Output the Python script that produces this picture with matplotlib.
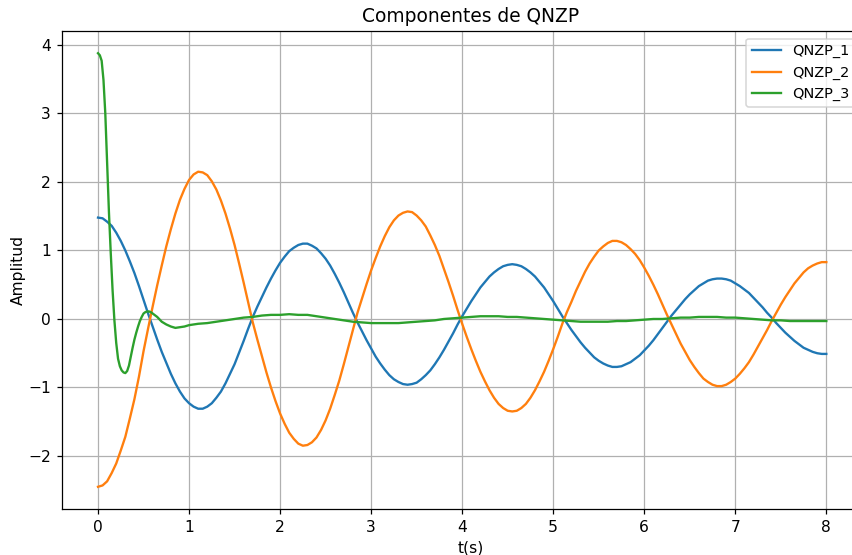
import numpy as np
import matplotlib
matplotlib.use("Agg")
import matplotlib.pyplot as plt

# Valores (muestreo cada 0.05 s)
t = [round(0.05 * i, 2) for i in range(161)]

qnzp_1 = [1.48, 1.47, 1.42, 1.36, 1.26, 1.14, 1.00, 0.84, 0.67, 0.48,
          0.28, 0.08, -0.11, -0.30, -0.48, -0.64, -0.80, -0.94, -1.06, -1.16,
          -1.23, -1.28, -1.31, -1.31, -1.28, -1.23, -1.15, -1.06, -0.94, -0.80,
          -0.66, -0.49, -0.32, -0.14, 0.03, 0.18, 0.32, 0.46, 0.59, 0.71,
          0.82, 0.91, 0.99, 1.04, 1.08, 1.10, 1.10, 1.07, 1.03, 0.96,
          0.88, 0.78, 0.66, 0.53, 0.39, 0.24, 0.09, -0.05, -0.18, -0.31,
          -0.43, -0.55, -0.65, -0.74, -0.82, -0.88, -0.92, -0.95, -0.96, -0.95,
          -0.93, -0.88, -0.82, -0.75, -0.66, -0.56, -0.45, -0.33, -0.21, -0.08,
          0.04, 0.15, 0.26, 0.36, 0.46, 0.54, 0.62, 0.68, 0.73, 0.77,
          0.79, 0.80, 0.79, 0.77, 0.73, 0.68, 0.62, 0.54, 0.46, 0.36,
          0.26, 0.15, 0.04, -0.06, -0.16, -0.25, -0.34, -0.42, -0.49, -0.56,
          -0.61, -0.65, -0.68, -0.70, -0.70, -0.69, -0.66, -0.63, -0.58, -0.53,
          -0.46, -0.39, -0.31, -0.22, -0.13, -0.04, 0.05, 0.13, 0.21, 0.29,
          0.36, 0.42, 0.48, 0.52, 0.56, 0.58, 0.59, 0.59, 0.58, 0.56,
          0.52, 0.48, 0.43, 0.38, 0.31, 0.24, 0.17, 0.09, 0.02, -0.06,
          -0.13, -0.20, -0.26, -0.32, -0.37, -0.42, -0.45, -0.48, -0.50, -0.51,
          -0.51]

qnzp_2 = [-2.45, -2.43, -2.37, -2.25, -2.11, -1.92, -1.72, -1.45, -1.17, -0.84,
          -0.47, -0.14, 0.18, 0.49, 0.78, 1.06, 1.31, 1.54, 1.74, 1.90,
          2.03, 2.11, 2.15, 2.14, 2.10, 2.01, 1.89, 1.73, 1.54, 1.32,
          1.08, 0.81, 0.53, 0.24, -0.05, -0.30, -0.54, -0.78, -1.00, -1.20,
          -1.38, -1.53, -1.66, -1.75, -1.82, -1.85, -1.84, -1.80, -1.73, -1.62,
          -1.48, -1.31, -1.11, -0.90, -0.66, -0.41, -0.16, 0.09, 0.30, 0.51,
          0.71, 0.89, 1.06, 1.21, 1.34, 1.44, 1.51, 1.55, 1.57, 1.56,
          1.51, 1.44, 1.35, 1.22, 1.08, 0.92, 0.73, 0.54, 0.34, 0.13,
          -0.07, -0.26, -0.44, -0.61, -0.77, -0.91, -1.04, -1.15, -1.24, -1.30,
          -1.34, -1.35, -1.34, -1.30, -1.24, -1.15, -1.04, -0.91, -0.77, -0.61,
          -0.44, -0.26, -0.07, 0.10, 0.25, 0.41, 0.55, 0.69, 0.81, 0.91,
          1.00, 1.06, 1.11, 1.14, 1.14, 1.12, 1.08, 1.02, 0.95, 0.86,
          0.75, 0.63, 0.50, 0.36, 0.21, 0.06, -0.08, -0.22, -0.36, -0.48,
          -0.60, -0.70, -0.79, -0.87, -0.92, -0.96, -0.98, -0.98, -0.96, -0.92,
          -0.87, -0.80, -0.72, -0.63, -0.52, -0.40, -0.28, -0.16, -0.03, 0.09,
          0.21, 0.32, 0.42, 0.52, 0.60, 0.68, 0.74, 0.78, 0.81, 0.83,
          0.83]

# QNZP_3 cambia muy rapido al inicio: muestreo mas fino hasta 1 s
t_3 = [0.00, 0.02, 0.04, 0.06, 0.08, 0.10, 0.12, 0.14, 0.16, 0.18,
       0.20, 0.22, 0.24, 0.26, 0.28, 0.30, 0.32, 0.34, 0.36, 0.38,
       0.40, 0.42, 0.44, 0.46, 0.48, 0.50, 0.52, 0.54, 0.56, 0.58,
       0.60, 0.65, 0.70, 0.75, 0.80, 0.85, 0.90, 0.95] + \
      [round(0.1 * i, 1) for i in range(10, 81)]

qnzp_3 = [3.88, 3.85, 3.77, 3.49, 3.00, 2.28, 1.56, 0.96, 0.42, -0.02,
          -0.35, -0.58, -0.69, -0.75, -0.78, -0.79, -0.76, -0.68, -0.55, -0.42,
          -0.30, -0.20, -0.11, -0.03, 0.03, 0.08, 0.10, 0.11, 0.11, 0.10,
          0.08, 0.03, -0.04, -0.08, -0.11, -0.13, -0.12, -0.11,
          -0.09, -0.07, -0.06, -0.04, -0.02, 0.00, 0.02,
          0.03, 0.05, 0.06, 0.06, 0.07, 0.06, 0.06, 0.04, 0.02, 0.00,
          -0.02, -0.04, -0.05, -0.06, -0.06, -0.06, -0.06, -0.05, -0.04, -0.03,
          -0.02, 0.00, 0.01, 0.02, 0.03, 0.04, 0.04, 0.04, 0.03, 0.03,
          0.02, 0.01, 0.00, -0.01, -0.02, -0.03, -0.04, -0.04, -0.04, -0.04,
          -0.03, -0.03, -0.02, -0.01, 0.00, 0.00, 0.01, 0.02, 0.02, 0.03,
          0.03, 0.03, 0.02, 0.02, 0.01, 0.00, -0.01, -0.02, -0.02, -0.03,
          -0.03, -0.03, -0.03, -0.03]

series = {"QNZP_1": (t, qnzp_1), "QNZP_2": (t, qnzp_2), "QNZP_3": (t_3, qnzp_3)}


def main():
    dpi = 112
    fig = plt.figure(figsize=(852 / dpi, 555 / dpi), dpi=dpi)
    # la imagen original esta recortada a la derecha, el eje sale del lienzo
    ax = fig.add_axes([0.0723, 0.0834, 0.9606, 0.8602])

    for name, (x, y) in series.items():
        ax.plot(x, y, label=name, linewidth=1.5)

    ax.set_xlim(-0.4, 8.59)
    ax.set_ylim(-2.77, 4.2)
    ax.set_xticks(np.arange(0, 9, 1))
    ax.set_yticks(np.arange(-2, 5, 1))

    ax.set_title("Componentes de QNZP")
    ax.set_xlabel("t(s)")
    ax.set_ylabel("Amplitud", labelpad=1.5)
    ax.grid(True)
    ax.legend(loc="upper right", fontsize=9.3, bbox_to_anchor=(0.979, 1.0))

    fig.savefig("out.png", dpi=dpi)


if __name__ == "__main__":
    main()
